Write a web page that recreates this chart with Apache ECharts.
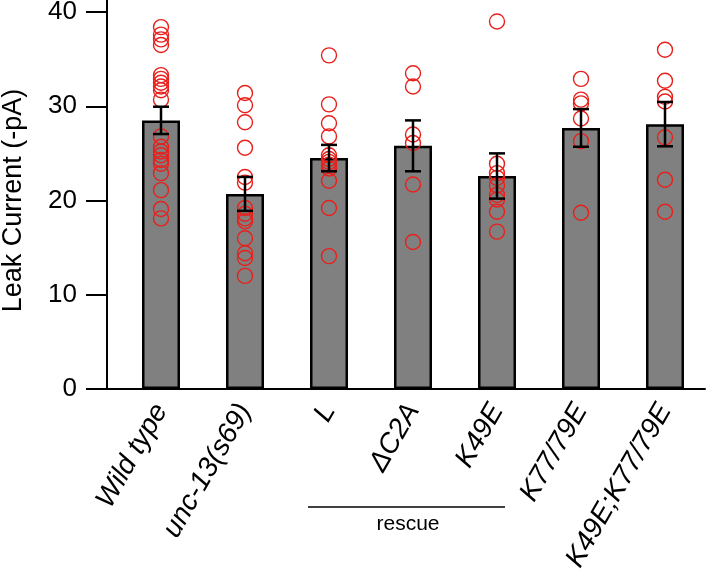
<!DOCTYPE html>
<html>
<head>
<meta charset="utf-8">
<script src="https://cdn.jsdelivr.net/npm/echarts@6/dist/echarts.min.js"></script>
<style>
  html, body { margin: 0; padding: 0; background: #fff; }
  #main { width: 707px; height: 576px; }
</style>
</head>
<body>
<div id="main"></div>
<script>
// groups on the x axis
const categories = ["Wild type", "unc-13(s69)", "L", "\u0394C2A", "K49E", "K77/79E", "K49E;K77/79E"];
// bar heights (mean) and error (SEM)
const means = [28.5, 20.7, 24.5, 25.8, 22.6, 27.7, 28.1];
const sems = [1.45, 1.8, 1.4, 2.7, 2.4, 2.0, 2.35];
// single cells
const wildType = [38.4, 37.6, 37.1, 36.5, 33.3, 32.9, 32.5, 32.1, 31.7, 30.7, 26.8, 25.7, 25.2, 24.8, 24.3, 23.9, 22.9, 21.1, 19.1, 18.1];
const unc13 = [31.4, 30.1, 28.3, 25.6, 22.5, 21.9, 19.2, 18.6, 18.1, 17.8, 16.0, 14.4, 13.9, 12.0];
const rescueL = [35.4, 30.2, 28.2, 26.8, 24.8, 24.4, 24.1, 23.8, 23.4, 22.1, 19.2, 14.1];
const rescueC2A = [33.5, 32.1, 27.0, 26.1, 21.7, 15.6];
const rescueK49E = [39.0, 23.9, 22.9, 22.4, 21.6, 20.6, 20.1, 18.8, 16.7];
const k7779E = [32.9, 30.7, 30.3, 28.7, 26.3, 18.7];
const k49k7779E = [36.0, 32.7, 31.0, 30.5, 26.7, 22.2, 18.8];
const yTicks = [0, 10, 20, 30, 40];

const groups = [wildType, unc13, rescueL, rescueC2A, rescueK49E, k7779E, k49k7779E];
let points = [];
groups.forEach(function (g, i) {
  g.forEach(function (v) { points.push([i, v]); });
});
const errData = means.map(function (m, i) { return [i, m + sems[i], m - sems[i]]; });

const font = "Liberation Sans, Arial, Helvetica, sans-serif";
const myChart = echarts.init(document.getElementById("main"));

myChart.setOption({
  animation: false,
  textStyle: { fontFamily: font },
  grid: [
    // frame only: axis lines
    { left: 107, top: 0, width: 598, height: 389, outerBoundsMode: "none", containLabel: false },
    // data
    { left: 119, top: 12, width: 588, height: 377, outerBoundsMode: "none", containLabel: false }
  ],
  xAxis: [
    {
      type: "value", gridIndex: 0, min: 0, max: 1,
      axisLine: { show: true, lineStyle: { color: "#000", width: 2 } },
      axisTick: { show: false }, axisLabel: { show: false }, splitLine: { show: false }
    },
    {
      type: "category", gridIndex: 1, data: categories,
      axisLine: { show: false }, axisTick: { show: false },
      axisLabel: {
        rotate: 60, margin: 17, interval: 0,
        color: "#000", fontSize: 28, fontStyle: "italic", fontFamily: font
      }
    }
  ],
  yAxis: [
    {
      type: "value", gridIndex: 0, min: 0, max: 1,
      axisLine: { show: true, lineStyle: { color: "#000", width: 2 } },
      axisTick: { show: false }, axisLabel: { show: false }, splitLine: { show: false }
    },
    {
      type: "value", gridIndex: 1, min: 0, max: 40, interval: 10, offset: 12,
      axisLine: { show: false },
      axisTick: { show: true, length: 21, lineStyle: { color: "#000", width: 2 } },
      axisLabel: {
        margin: 30, color: "#000", fontSize: 26, fontFamily: font,
        formatter: function (v) { return yTicks.indexOf(v) >= 0 ? String(v) : ""; }
      },
      splitLine: { show: false },
      name: "Leak Current (-pA)",
      nameLocation: "middle",
      nameGap: 80,
      nameTextStyle: { color: "#000", fontSize: 27, fontFamily: font }
    }
  ],
  graphic: [
    { type: "line", shape: { x1: 308, y1: 507, x2: 505, y2: 507 }, style: { stroke: "#000", lineWidth: 1.5 } },
    {
      type: "text", x: 408, y: 524,
      style: { text: "rescue", fill: "#000", font: "21px " + font, align: "center", verticalAlign: "middle" }
    }
  ],
  series: [
    {
      type: "bar", xAxisIndex: 1, yAxisIndex: 1, data: means, barWidth: 38,
      itemStyle: { color: "#808080", borderColor: "#000", borderWidth: 2.5 },
      z: 2
    },
    {
      type: "scatter", xAxisIndex: 1, yAxisIndex: 1, data: points,
      symbol: "circle", symbolSize: 15,
      itemStyle: { color: "rgba(0,0,0,0)", borderColor: "#e8201c", borderWidth: 1.4, opacity: 1 },
      z: 3
    },
    {
      type: "custom", xAxisIndex: 1, yAxisIndex: 1, data: errData,
      renderItem: function (params, api) {
        const x = api.value(0);
        const hi = api.coord([x, api.value(1)]);
        const lo = api.coord([x, api.value(2)]);
        const hw = 8;
        const st = { stroke: "#000", lineWidth: 2.5 };
        return {
          type: "group",
          children: [
            { type: "line", shape: { x1: hi[0], y1: hi[1], x2: lo[0], y2: lo[1] }, style: st },
            { type: "line", shape: { x1: hi[0] - hw, y1: hi[1], x2: hi[0] + hw, y2: hi[1] }, style: st },
            { type: "line", shape: { x1: lo[0] - hw, y1: lo[1], x2: lo[0] + hw, y2: lo[1] }, style: st }
          ]
        };
      },
      z: 4
    }
  ]
});
</script>
</body>
</html>
